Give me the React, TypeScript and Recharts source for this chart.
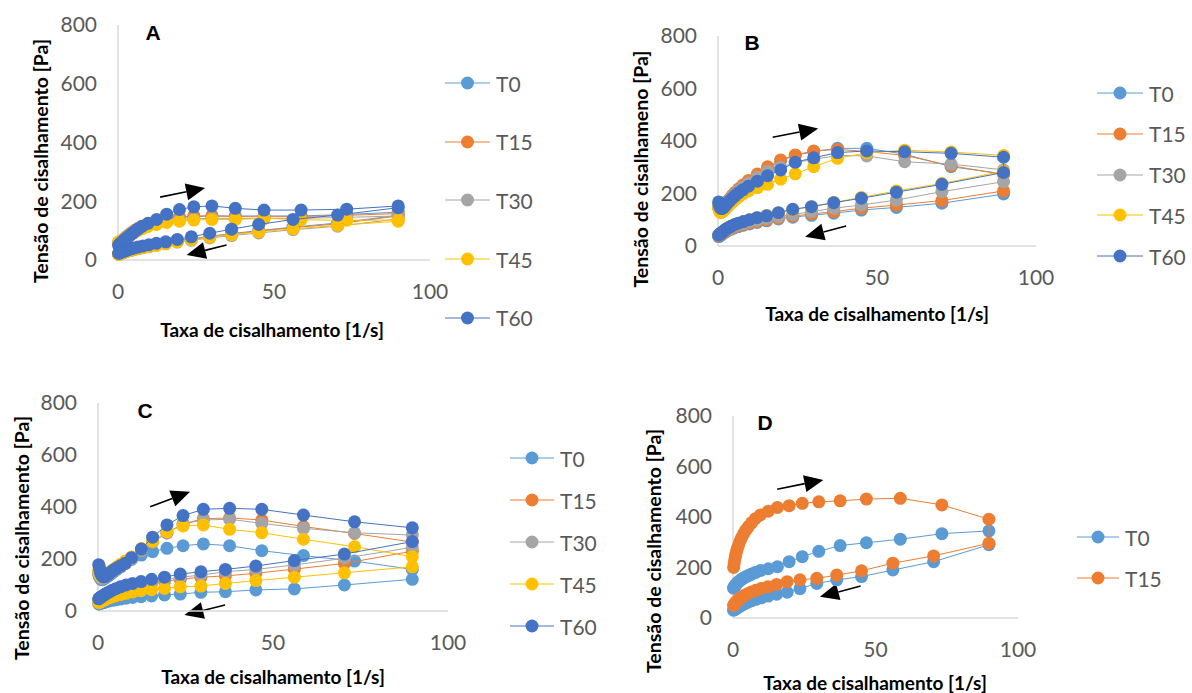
import { ScatterChart, Scatter, XAxis, YAxis, ReferenceLine, Label } from "recharts";

const COLORS: Record<string, string> = {
  T0: "#5B9BD5",
  T15: "#ED7D31",
  T30: "#A5A5A5",
  T45: "#FFC000",
  T60: "#4472C4",
};

// shear rates of the up and down ramps [1/s]
const UP_RATES = [0.2, 0.4, 0.6, 0.8, 1.0, 1.3, 1.6, 2.0, 2.5, 3.0, 3.7, 4.5, 5.4, 6.5, 7.8, 9.6, 12.4, 15.6, 19.7, 24.3, 30.1, 37.6, 46.8, 58.7, 73.3, 89.8];
const DOWN_RATES = [89.8, 70.4, 56.1, 45.1, 36.4, 29.4, 23.5, 19.0, 15.3, 12.3, 9.9, 8.0, 6.4, 5.1, 4.1, 3.3, 2.6, 2.1, 1.7, 1.3, 1.0, 0.8, 0.6, 0.4, 0.2];

// panel A
const A_T0_UP = [55, 56, 57, 59, 61, 63, 66, 70, 74, 79, 85, 91, 98, 105, 112, 120, 130, 138, 144, 148, 150, 150, 150, 150, 155, 163];
const A_T0_DOWN = [152, 126, 112, 100, 90, 81, 72, 65, 59, 53, 48, 44, 40, 37, 34, 32, 30, 28, 26, 25, 24, 23, 22, 21, 20];
const A_T15_UP = [58, 59, 60, 62, 64, 66, 69, 73, 77, 82, 88, 94, 101, 108, 115, 123, 132, 140, 146, 150, 150, 148, 147, 148, 152, 158];
const A_T15_DOWN = [150, 123, 110, 98, 88, 79, 71, 64, 58, 52, 47, 43, 40, 37, 34, 32, 30, 28, 26, 25, 24, 23, 22, 21, 20];
const A_T30_UP = [60, 60, 61, 62, 64, 66, 68, 72, 76, 80, 86, 92, 98, 105, 112, 119, 127, 134, 138, 140, 142, 142, 141, 142, 145, 150];
const A_T30_DOWN = [140, 115, 103, 92, 83, 75, 67, 61, 55, 50, 45, 42, 38, 35, 33, 31, 29, 27, 25, 24, 23, 22, 21, 20, 19];
const A_T45_UP = [62, 62, 62, 63, 64, 66, 68, 71, 75, 79, 84, 89, 95, 101, 107, 114, 121, 128, 132, 136, 138, 138, 142, 137, 135, 136];
const A_T45_DOWN = [132, 118, 106, 96, 86, 78, 69, 62, 56, 50, 46, 42, 39, 36, 33, 31, 29, 27, 25, 24, 23, 22, 21, 20, 19];
const A_T60_UP = [50, 52, 54, 56, 58, 61, 64, 68, 72, 77, 83, 90, 97, 106, 115, 125, 138, 156, 172, 181, 184, 176, 170, 170, 173, 184];
const A_T60_DOWN = [178, 153, 138, 121, 105, 91, 79, 70, 62, 57, 52, 48, 44, 41, 38, 35, 33, 31, 29, 28, 27, 26, 25, 24, 23];

// panel B
const B_T0_UP = [145, 140, 137, 136, 137, 140, 144, 150, 158, 166, 176, 188, 200, 213, 227, 245, 270, 298, 325, 345, 360, 372, 372, 350, 302, 275];
const B_T0_DOWN = [198, 163, 147, 137, 125, 117, 110, 103, 96, 90, 84, 79, 74, 69, 64, 60, 56, 52, 49, 46, 43, 41, 39, 37, 36];
const B_T15_UP = [150, 145, 142, 141, 142, 145, 149, 155, 163, 171, 181, 193, 205, 218, 232, 250, 274, 302, 328, 347, 362, 368, 360, 345, 306, 272];
const B_T15_DOWN = [210, 173, 156, 144, 131, 122, 114, 106, 99, 93, 87, 82, 77, 72, 67, 63, 59, 55, 52, 49, 46, 44, 42, 40, 38];
const B_T30_UP = [155, 148, 144, 142, 142, 144, 148, 153, 160, 168, 177, 188, 199, 211, 224, 240, 262, 285, 300, 318, 330, 345, 343, 321, 312, 290];
const B_T30_DOWN = [245, 207, 175, 156, 144, 131, 120, 112, 105, 98, 92, 86, 81, 76, 71, 66, 62, 58, 55, 52, 49, 47, 45, 43, 41];
const B_T45_UP = [145, 135, 130, 128, 128, 130, 133, 137, 143, 150, 158, 167, 177, 187, 198, 210, 222, 235, 255, 275, 302, 334, 355, 365, 358, 345];
const B_T45_DOWN = [285, 238, 210, 185, 166, 150, 138, 126, 116, 108, 100, 93, 87, 81, 75, 70, 65, 60, 56, 52, 49, 47, 45, 43, 41];
const B_T60_UP = [168, 158, 150, 145, 143, 143, 145, 150, 157, 164, 172, 182, 192, 203, 214, 228, 247, 268, 290, 319, 336, 356, 362, 359, 353, 338];
const B_T60_DOWN = [280, 235, 205, 182, 165, 150, 140, 127, 115, 108, 100, 93, 87, 81, 75, 70, 65, 60, 56, 52, 49, 47, 45, 43, 41];

// panel C
const C_T0_UP = [140, 133, 127, 123, 121, 121, 123, 126, 131, 136, 143, 151, 160, 170, 182, 198, 215, 228, 241, 251, 258, 251, 232, 213, 192, 160];
const C_T0_DOWN = [122, 100, 85, 81, 74, 72, 65, 62, 58, 55, 52, 49, 46, 43, 41, 39, 37, 35, 33, 32, 31, 30, 29, 28, 27];
const C_T15_UP = [150, 142, 135, 130, 127, 126, 128, 131, 136, 141, 148, 156, 164, 173, 184, 202, 232, 265, 300, 335, 355, 358, 350, 325, 298, 265];
const C_T15_DOWN = [230, 183, 161, 145, 135, 130, 122, 113, 106, 100, 94, 88, 82, 76, 71, 66, 62, 58, 55, 52, 49, 47, 45, 43, 41];
const C_T30_UP = [145, 138, 132, 128, 126, 126, 128, 131, 136, 141, 148, 156, 164, 173, 184, 202, 232, 266, 300, 335, 350, 353, 337, 318, 301, 292];
const C_T30_DOWN = [245, 203, 177, 160, 151, 138, 130, 120, 112, 105, 98, 92, 86, 80, 74, 69, 64, 60, 56, 53, 50, 48, 46, 44, 42];
const C_T45_UP = [155, 147, 140, 135, 132, 131, 132, 135, 140, 146, 153, 161, 170, 180, 192, 208, 240, 268, 305, 327, 331, 314, 301, 276, 247, 209];
const C_T45_DOWN = [170, 147, 130, 117, 106, 96, 93, 87, 82, 78, 73, 68, 63, 59, 55, 51, 48, 45, 42, 40, 38, 36, 35, 34, 33];
const C_T60_UP = [178, 168, 155, 145, 138, 133, 131, 133, 137, 142, 150, 158, 165, 174, 184, 205, 238, 284, 331, 367, 391, 395, 391, 369, 343, 320];
const C_T60_DOWN = [267, 219, 194, 173, 160, 151, 142, 130, 122, 113, 106, 100, 93, 86, 80, 74, 69, 65, 61, 58, 55, 53, 51, 49, 47];

// panel D
const D_T0_UP = [118, 122, 126, 129, 132, 136, 140, 144, 149, 153, 158, 163, 168, 174, 180, 188, 195, 203, 223, 243, 264, 287, 298, 312, 334, 345];
const D_T0_DOWN = [290, 223, 190, 164, 151, 137, 116, 102, 94, 87, 80, 74, 68, 62, 57, 52, 48, 45, 42, 39, 37, 35, 34, 33, 31];
const D_T15_UP = [200, 215, 230, 242, 252, 265, 277, 290, 305, 318, 333, 348, 362, 377, 393, 408, 423, 438, 445, 454, 460, 464, 471, 474, 448, 391];
const D_T15_DOWN = [296, 246, 217, 187, 170, 157, 151, 144, 133, 124, 117, 110, 103, 96, 90, 84, 79, 75, 70, 66, 62, 59, 56, 53, 50];

const Y_TICKS = [0, 200, 400, 600, 800];
const X_TICKS = [0, 50, 100];

const loop = (up: number[], down: number[]) => [
  ...UP_RATES.map((x, i) => ({ x, y: up[i] })),
  ...DOWN_RATES.map((x, i) => ({ x, y: down[i] })),
];

type Pt = { x: number; y: number };

const ArrowShape = (p: any) => {
  const { x1, y1, x2, y2 } = p;
  const ang = Math.atan2(y2 - y1, x2 - x1);
  const len = 19;
  const half = 8.5;
  const bx = x2 - len * Math.cos(ang);
  const by = y2 - len * Math.sin(ang);
  const nx = -Math.sin(ang) * half;
  const ny = Math.cos(ang) * half;
  return (
    <g>
      <line x1={x1} y1={y1} x2={bx} y2={by} stroke="#000" strokeWidth={1.6} />
      <polygon points={`${x2},${y2} ${bx + nx},${by + ny} ${bx - nx},${by - ny}`} fill="#000" />
    </g>
  );
};

const TICK_STYLE = { fill: "#595959", fontSize: 21, fontFamily: "Lato, 'Open Sans', sans-serif" };
const TITLE_FONT = "Lato, 'Open Sans', sans-serif";

type PanelProps = {
  letter: string;
  box: { left: number; top: number; width: number; height: number };
  plot: { x0: number; x1: number; top: number; bottom: number };
  yTitle: string;
  yTitlePos: [number, number];
  xTitlePos: [number, number];
  letterPos: [number, number];
  legend: { x: number; y: number; gap: number; line: number };
  series: { name: string; points: Pt[] }[];
  arrows: Pt[][];
};

const YW = 60;
const XH = 40;

const Panel = (props: PanelProps) => {
  const { box, plot, series, legend } = props;
  const margin = {
    top: plot.top - box.top,
    left: plot.x0 - box.left - YW,
    right: box.left + box.width - plot.x1,
    bottom: box.top + box.height - plot.bottom - XH,
  };
  const lx = (v: number) => v - box.left;
  const ly = (v: number) => v - box.top;
  return (
    <>
      <div style={{ position: "absolute", left: box.left, top: box.top }}>
        <ScatterChart width={box.width} height={box.height} margin={margin}>
          <XAxis
            type="number"
            dataKey="x"
            domain={[0, 100]}
            ticks={X_TICKS}
            height={XH}
            tickLine={false}
            tickSize={0}
            tickMargin={24}
            axisLine={{ stroke: "#D9D9D9", strokeWidth: 1.5 }}
            tick={TICK_STYLE}
          >
            <Label
              content={() => (
                <text
                  x={lx(props.xTitlePos[0])}
                  y={ly(props.xTitlePos[1])}
                  textAnchor="middle"
                  dominantBaseline="central"
                  fontFamily={TITLE_FONT}
                  fontWeight="bold"
                  fontSize={19}
                  fill="#000"
                >
                  Taxa de cisalhamento [1/s]
                </text>
              )}
            />
          </XAxis>
          <YAxis
            type="number"
            dataKey="y"
            domain={[0, 800]}
            ticks={Y_TICKS}
            width={YW}
            tickLine={false}
            tickSize={0}
            tickMargin={21}
            axisLine={{ stroke: "#D9D9D9", strokeWidth: 1.5 }}
            tick={TICK_STYLE}
          >
            <Label
              content={() => (
                <g>
                  <text
                    x={lx(props.yTitlePos[0])}
                    y={ly(props.yTitlePos[1])}
                    textAnchor="middle"
                    dominantBaseline="central"
                    fontFamily={TITLE_FONT}
                    fontWeight="bold"
                    fontSize={19.5}
                    fill="#000"
                    transform={`rotate(-90, ${lx(props.yTitlePos[0])}, ${ly(props.yTitlePos[1])})`}
                  >
                    {props.yTitle}
                  </text>
                  <text
                    x={lx(props.letterPos[0])}
                    y={ly(props.letterPos[1])}
                    textAnchor="middle"
                    dominantBaseline="central"
                    fontFamily="'Liberation Sans', Arial, sans-serif"
                    fontWeight="bold"
                    fontSize={21}
                    fill="#000"
                  >
                    {props.letter}
                  </text>
                </g>
              )}
            />
          </YAxis>
          {series.map((s) => (
            <Scatter
              key={s.name}
              name={s.name}
              data={s.points}
              line={{ stroke: COLORS[s.name], strokeWidth: 1 }}
              lineType="joint"
              isAnimationActive={false}
              shape={(p: any) => <circle cx={p.cx} cy={p.cy} r={6.5} fill={COLORS[s.name]} />}
            />
          ))}
          {props.arrows.map((seg, i) => (
            <ReferenceLine key={i} segment={seg} ifOverflow="visible" shape={ArrowShape} />
          ))}
        </ScatterChart>
      </div>
      {series.map((s, i) => (
        <div
          key={s.name}
          style={{
            position: "absolute",
            left: legend.x,
            top: legend.y + i * legend.gap - 15,
            height: 30,
            display: "flex",
            alignItems: "center",
            whiteSpace: "nowrap",
          }}
        >
          <svg width={legend.line} height={30}>
            <line x1={0} y1={15} x2={legend.line} y2={15} stroke={COLORS[s.name]} strokeWidth={1} />
            <circle cx={legend.line / 2} cy={15} r={6.5} fill={COLORS[s.name]} />
          </svg>
          <span style={{ marginLeft: 6, fontFamily: TITLE_FONT, fontSize: 21, color: "#595959" }}>{s.name}</span>
        </div>
      ))}
    </>
  );
};

export default function App() {
  return (
    <div style={{ position: "fixed", left: 0, top: 0, width: 1192, height: 693, background: "#fff", overflow: "hidden" }}>
      <Panel
        letter="A"
        box={{ left: 0, top: 0, width: 460, height: 345 }}
        plot={{ x0: 118, x1: 430, top: 25, bottom: 260 }}
        yTitle="Tensão de cisalhamento [Pa]"
        yTitlePos={[40, 161]}
        xTitlePos={[272, 329]}
        letterPos={[153, 32]}
        legend={{ x: 445, y: 83, gap: 58.7, line: 45 }}
        series={[
          { name: "T0", points: loop(A_T0_UP, A_T0_DOWN) },
          { name: "T15", points: loop(A_T15_UP, A_T15_DOWN) },
          { name: "T30", points: loop(A_T30_UP, A_T30_DOWN) },
          { name: "T45", points: loop(A_T45_UP, A_T45_DOWN) },
          { name: "T60", points: loop(A_T60_UP, A_T60_DOWN) },
        ]}
        arrows={[
          [{ x: 13.5, y: 214 }, { x: 27.9, y: 245 }],
          [{ x: 34.8, y: 51 }, { x: 22, y: 17 }],
        ]}
      />
      <Panel
        letter="B"
        box={{ left: 600, top: 0, width: 460, height: 345 }}
        plot={{ x0: 718, x1: 1036, top: 36, bottom: 246 }}
        yTitle="Tensão de cisalhameno [Pa]"
        yTitlePos={[640, 169]}
        xTitlePos={[877, 313]}
        letterPos={[752, 42]}
        legend={{ x: 1097, y: 93, gap: 40.8, line: 46 }}
        series={[
          { name: "T0", points: loop(B_T0_UP, B_T0_DOWN) },
          { name: "T15", points: loop(B_T15_UP, B_T15_DOWN) },
          { name: "T30", points: loop(B_T30_UP, B_T30_DOWN) },
          { name: "T45", points: loop(B_T45_UP, B_T45_DOWN) },
          { name: "T60", points: loop(B_T60_UP, B_T60_DOWN) },
        ]}
        arrows={[
          [{ x: 17.2, y: 414 }, { x: 31.5, y: 448 }],
          [{ x: 40.3, y: 76 }, { x: 27.4, y: 35 }],
        ]}
      />
      <Panel
        letter="C"
        box={{ left: 0, top: 360, width: 470, height: 333 }}
        plot={{ x0: 98, x1: 448, top: 403, bottom: 611 }}
        yTitle="Tensão de cisalhamento [Pa]"
        yTitlePos={[21, 538]}
        xTitlePos={[273, 676]}
        letterPos={[145, 410]}
        legend={{ x: 510, y: 458, gap: 42, line: 44 }}
        series={[
          { name: "T0", points: loop(C_T0_UP, C_T0_DOWN) },
          { name: "T15", points: loop(C_T15_UP, C_T15_DOWN) },
          { name: "T30", points: loop(C_T30_UP, C_T30_DOWN) },
          { name: "T45", points: loop(C_T45_UP, C_T45_DOWN) },
          { name: "T60", points: loop(C_T60_UP, C_T60_DOWN) },
        ]}
        arrows={[
          [{ x: 14.9, y: 401 }, { x: 26.3, y: 459 }],
          [{ x: 36.3, y: 23 }, { x: 24.7, y: -15 }],
        ]}
      />
      <Panel
        letter="D"
        box={{ left: 600, top: 360, width: 460, height: 333 }}
        plot={{ x0: 733, x1: 1018, top: 416, bottom: 618 }}
        yTitle="Tensão de cisalhamento [Pa]"
        yTitlePos={[653, 551]}
        xTitlePos={[875, 682]}
        letterPos={[765, 422]}
        legend={{ x: 1077, y: 537, gap: 41, line: 42 }}
        series={[
          { name: "T0", points: loop(D_T0_UP, D_T0_DOWN) },
          { name: "T15", points: loop(D_T15_UP, D_T15_DOWN) },
        ]}
        arrows={[
          [{ x: 15.5, y: 510 }, { x: 31.7, y: 547 }],
          [{ x: 44.8, y: 127 }, { x: 30.5, y: 84 }],
        ]}
      />
    </div>
  );
}
